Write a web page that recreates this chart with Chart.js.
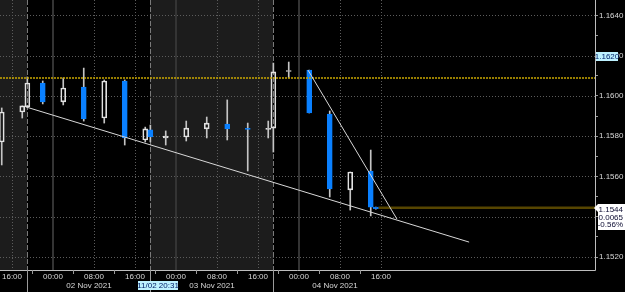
<!DOCTYPE html>
<html>
<head>
<meta charset="utf-8">
<script src="https://cdn.jsdelivr.net/npm/chart.js@4/dist/chart.umd.min.js"></script>
<style>
html, body { margin: 0; padding: 0; background: #000; }
#wrap { width: 625px; height: 292px; position: relative; }
</style>
</head>
<body>
<div id="wrap"><canvas id="fx"></canvas></div>
<script>
// ---------------- DATA (4h candles, hours counted from 02 Nov 2021 00:00) ----------------
const hours  = [-10, -6, -5, -2, 2, 6, 10, 14, 18, 19, 22, 26, 30, 34, 38, 42, 43, 46, 50, 54, 58, 62, 63];
const opens  = [1.15771, 1.15920, 1.15945, 1.16064, 1.15970, 1.16044, 1.15890, 1.16074, 1.15781, 1.15831, 1.15791, 1.15796,
                1.15836, 1.15860, 1.15838, 1.15834, 1.15840, 1.16121, 1.16128, 1.15910, 1.15533, 1.15627, 1.15448];
const highs  = [1.15940, 1.15950, 1.16094, 1.16074, 1.16089, 1.16138, 1.16079, 1.16079, 1.15845, 1.15855, 1.15826, 1.15875,
                1.15895, 1.15980, 1.15865, 1.15875, 1.16163, 1.16168, 1.16128, 1.15925, 1.15622, 1.15731, 1.15448];
const lows   = [1.15657, 1.15890, 1.15945, 1.15960, 1.15955, 1.15875, 1.15865, 1.15756, 1.15771, 1.15771, 1.15756, 1.15776,
                1.15791, 1.15781, 1.15627, 1.15791, 1.15721, 1.16089, 1.15915, 1.15498, 1.15433, 1.15404, 1.15438];
const closes = [1.15920, 1.15950, 1.16064, 1.15970, 1.16039, 1.15885, 1.16074, 1.15791, 1.15836, 1.15796, 1.15801, 1.15840,
                1.15865, 1.15836, 1.15834, 1.15838, 1.16119, 1.16126, 1.15915, 1.15538, 1.15622, 1.15448, 1.15440];

// drawn trendlines [hour, price]
const trendLow  = [[-5.27, 1.15945], [81.2, 1.15274]];
const trendHigh = [[49.76, 1.16128], [67.1, 1.15389]];

// reference levels
const dottedLevel = 1.16089;
const lastPrice = 1.15444;
const lastFrom = 63.5;

// axis ranges / ticks
const xMin = -10.34, xMax = 105.76;
const yMin = 1.151355, yMax = 1.16476;
const xLabelHours = [-8, 0, 8, 16, 24, 32, 40, 48, 56, 64];
const midnightHours = [0, 24, 48];
const sessionHours = [-5, 19, 43];
const shadedSessions = [[-20, -5], [19, 43]];
const dateHours = [8, 32, 56];
const dateNames = ["02 Nov 2021", "03 Nov 2021", "04 Nov 2021"];
const priceBox = ["1.1544", "-0.0065", "-0.56%"];
const cursorPrice = "1.1620";
const cursorTime = "11/02 20:31";

// ---------------- COLOURS ----------------
const BLUE = "#0a80ff";
const WHITE = "#e2e2e2";
const WICK = "#c4c4c4";
const FONT = "8px 'Liberation Sans', Arial, sans-serif";

Chart.defaults.font.family = "'Liberation Sans', Arial, sans-serif";
Chart.defaults.font.size = 8;

const up = hours.map((h, i) => closes[i] >= opens[i]);

const bodies = hours.map((h, i) => ({ x: h, y: [Math.min(opens[i], closes[i]), Math.max(opens[i], closes[i])] }));
const upperWicks = hours.map((h, i) => ({ x: h, y: [Math.max(opens[i], closes[i]), highs[i]] }));
const lowerWicks = hours.map((h, i) => ({ x: h, y: [lows[i], Math.min(opens[i], closes[i])] }));

const pad2 = n => String(n).padStart(2, "0");

// ---------------- BACKGROUND / GRID / ANNOTATIONS ----------------
const deco = {
    id: "deco",
    beforeDraw(c) {
        const ctx = c.ctx;
        ctx.save();
        ctx.fillStyle = "#000";
        ctx.fillRect(0, 0, c.width, c.height);
        ctx.restore();
    },
    beforeDatasetsDraw(c) {
        const { ctx, chartArea: a, scales: { x, y } } = c;
        ctx.save();
        ctx.beginPath();
        ctx.rect(a.left, a.top, a.right - a.left, a.bottom - a.top);
        ctx.clip();

        // shaded sessions
        ctx.fillStyle = "#1c1c1c";
        shadedSessions.forEach(([s, e]) => {
            const x0 = Math.round(x.getPixelForValue(s));
            const x1 = Math.round(x.getPixelForValue(e));
            ctx.fillRect(x0, a.top, x1 - x0, a.bottom - a.top);
        });

        // horizontal dotted grid
        ctx.lineWidth = 1;
        ctx.strokeStyle = "#5c5c5c";
        ctx.setLineDash([1, 2]);
        y.ticks.forEach(t => {
            if (Math.round(t.value * 1000) % 2 !== 0) return;
            const py = Math.round(y.getPixelForValue(t.value)) + 0.5;
            ctx.beginPath(); ctx.moveTo(a.left, py); ctx.lineTo(a.right, py); ctx.stroke();
        });

        // vertical dotted grid (hours)
        xLabelHours.forEach(h => {
            if (midnightHours.includes(h)) return;
            const px = Math.round(x.getPixelForValue(h)) + 0.5;
            ctx.beginPath(); ctx.moveTo(px, a.top); ctx.lineTo(px, a.bottom); ctx.stroke();
        });

        // midnight separators
        ctx.setLineDash([]);
        ctx.strokeStyle = "#343434";
        ctx.lineWidth = 2;
        midnightHours.forEach(h => {
            const px = Math.round(x.getPixelForValue(h));
            ctx.beginPath(); ctx.moveTo(px, a.top); ctx.lineTo(px, a.bottom); ctx.stroke();
        });

        // session boundaries
        ctx.lineWidth = 1;
        ctx.strokeStyle = "#7a7a7a";
        ctx.setLineDash([5, 2]);
        sessionHours.forEach(h => {
            const px = Math.round(x.getPixelForValue(h)) + 0.5;
            ctx.beginPath(); ctx.moveTo(px, a.top); ctx.lineTo(px, a.bottom); ctx.stroke();
        });
        ctx.restore();
    },
    afterDraw(c) {
        const { ctx, chartArea: a, scales: { x, y } } = c;
        ctx.save();

        // frame
        ctx.strokeStyle = "#bdbdbd";
        ctx.lineWidth = 1;
        ctx.beginPath();
        ctx.moveTo(a.right + 0.5, 0);
        ctx.lineTo(a.right + 0.5, a.bottom + 0.5);
        ctx.lineTo(0, a.bottom + 0.5);
        ctx.stroke();

        // x ticks
        ctx.strokeStyle = "#9a9a9a";
        for (let h = -4; h <= 60; h += 8) {
            const px = Math.round(x.getPixelForValue(h)) + 0.5;
            ctx.beginPath(); ctx.moveTo(px, a.bottom); ctx.lineTo(px, a.bottom + 4); ctx.stroke();
        }
        sessionHours.forEach(h => {
            const px = Math.round(x.getPixelForValue(h)) + 0.5;
            ctx.beginPath(); ctx.moveTo(px, a.bottom); ctx.lineTo(px, c.height); ctx.stroke();
        });

        ctx.font = FONT;
        ctx.textBaseline = "middle";

        // date row
        ctx.fillStyle = "#d8d8d8";
        ctx.textAlign = "center";
        dateHours.forEach((h, i) => ctx.fillText(dateNames[i], x.getPixelForValue(h) - 5, a.bottom + 15.5));

        // cursor price label
        const cy = Math.round(y.getPixelForValue(1.1620));
        ctx.fillStyle = "#bdf1ff";
        ctx.fillRect(a.right + 1, cy - 4, 22, 9);
        ctx.fillStyle = "#00206a";
        ctx.textAlign = "center";
        ctx.fillText(cursorPrice, a.right + 12, cy + 0.5);

        // cursor time label
        ctx.fillStyle = "#bdf1ff";
        ctx.fillRect(138, 281, 40, 9);
        ctx.fillStyle = "#00206a";
        ctx.textAlign = "center";
        ctx.fillText(cursorTime, 158, 285.5);

        // last price box
        const ly = Math.round(y.getPixelForValue(lastPrice));
        ctx.fillStyle = "#ffffff";
        ctx.beginPath();
        ctx.moveTo(a.right - 1, ly);
        ctx.lineTo(a.right + 3, ly - 4);
        ctx.lineTo(c.width, ly - 4);
        ctx.lineTo(c.width, ly + 22);
        ctx.lineTo(a.right + 3, ly + 22);
        ctx.lineTo(a.right + 3, ly + 4);
        ctx.closePath();
        ctx.fill();
        ctx.fillStyle = "#0a0a30";
        ctx.textAlign = "right";
        priceBox.forEach((s, i) => ctx.fillText(s, c.width - 2, ly + 2 + i * 7.5));
        ctx.restore();
    }
};

new Chart(document.getElementById("fx"), {
    type: "bar",
    data: {
        datasets: [
            {
                type: "line", order: 0,
                data: trendLow.map(p => ({ x: p[0], y: p[1] })),
                borderColor: "#d8d8d8", borderWidth: 1, pointRadius: 0
            },
            {
                type: "line", order: 0,
                data: trendHigh.map(p => ({ x: p[0], y: p[1] })),
                borderColor: "#d8d8d8", borderWidth: 1, pointRadius: 0
            },
            {
                type: "line", order: 0,
                data: [{ x: xMin, y: dottedLevel }, { x: xMax, y: dottedLevel }],
                borderColor: "#c9a600", borderWidth: 1.6, borderDash: [2, 1], pointRadius: 0
            },
            {
                order: 1, grouped: false,
                data: bodies,
                barThickness: 5, minBarLength: 1, borderSkipped: false, borderWidth: 1,
                backgroundColor: up.map(u => u ? "rgba(0,0,0,0)" : BLUE),
                borderColor: up.map(u => u ? WHITE : BLUE)
            },
            {
                order: 2, grouped: false,
                data: upperWicks,
                barThickness: 1, backgroundColor: WICK
            },
            {
                order: 2, grouped: false,
                data: lowerWicks,
                barThickness: 1, backgroundColor: WICK
            },
            {
                type: "line", order: 3,
                data: [{ x: lastFrom, y: lastPrice }, { x: xMax, y: lastPrice }],
                borderColor: "#564500", borderWidth: 2.5, pointRadius: 0
            }
        ]
    },
    options: {
        responsive: true,
        maintainAspectRatio: false,
        animation: false,
        events: [],
        layout: { padding: 0 },
        plugins: { legend: { display: false }, tooltip: { enabled: false } },
        scales: {
            x: {
                type: "linear", min: xMin, max: xMax, offset: false,
                grid: { display: false, drawTicks: false },
                border: { display: false },
                ticks: {
                    stepSize: 8, includeBounds: false, autoSkip: false, maxRotation: 0,
                    color: "#d8d8d8", padding: 2,
                    callback: v => (v > 64 ? "" : pad2(((v % 24) + 24) % 24) + ":00")
                },
                afterFit: s => { s.height = 22; s.paddingLeft = 0; s.paddingRight = 0; }
            },
            y: {
                type: "linear", position: "right", min: yMin, max: yMax,
                grid: { drawOnChartArea: false, drawTicks: true, tickLength: 3, color: "#9a9a9a" },
                border: { display: false },
                ticks: {
                    stepSize: 0.001, includeBounds: false, color: "#d8d8d8", padding: 1,
                    callback: v => (Math.round(v * 1000) % 2 === 0 ? v.toFixed(4) : "")
                },
                afterFit: s => { s.width = 30; s.paddingTop = 0; s.paddingBottom = 0; }
            }
        }
    },
    plugins: [deco]
});
</script>
</body>
</html>
